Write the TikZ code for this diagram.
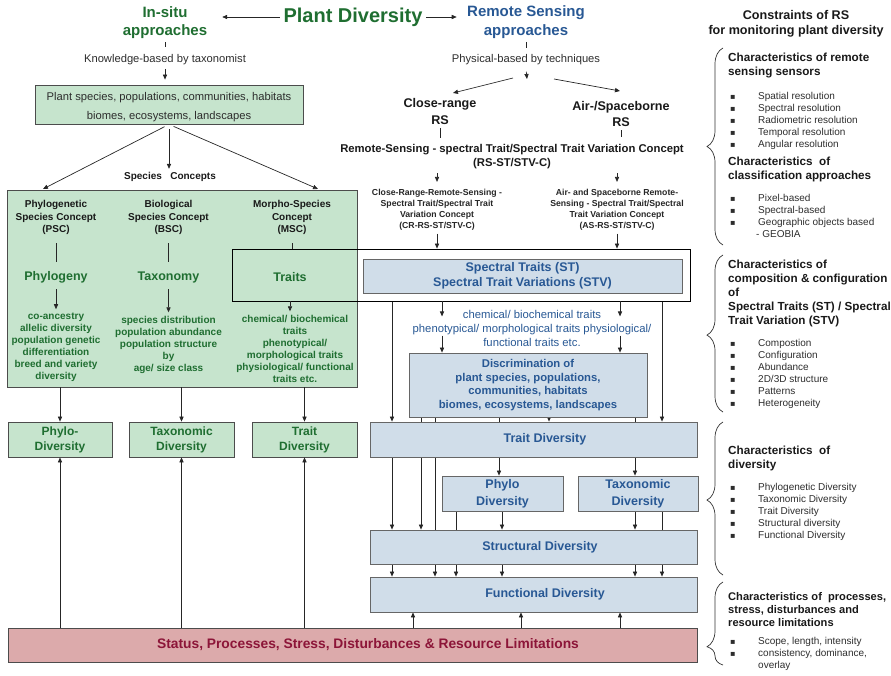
\documentclass[tikz,border=0pt]{standalone}
\usepackage{fontspec}
\setmainfont{Liberation Sans}
\newfontfamily\bulletfamily{DejaVu Sans}
\usetikzlibrary{arrows.meta,decorations.pathreplacing,backgrounds,calc}

\definecolor{plantgreen}{RGB}{31,110,49}
\definecolor{boxgreen}{RGB}{198,228,205}
\definecolor{rsblue}{RGB}{40,88,148}
\definecolor{boxblue}{RGB}{208,221,233}
\definecolor{stressred}{RGB}{140,21,56}
\definecolor{boxred}{RGB}{220,170,171}
\definecolor{darktext}{RGB}{45,45,45}

\newcommand{\sqbullet}{\makebox[28pt][l]{\bulletfamily\fontsize{8}{8}\selectfont ▪}}

\begin{document}
\begin{tikzpicture}[x=1pt, y=-1pt,
    arr/.style={draw=black!85, line width=0.7pt, -{Triangle[length=5pt,width=4.2pt]}},
    stub/.style={draw=black!85, line width=0.7pt},
    head/.style={font=\bfseries\fontsize{15}{18.5}\selectfont, align=center},
    note/.style={font=\fontsize{11.2}{13}\selectfont, text=darktext},
    rsname/.style={font=\bfseries\fontsize{12.6}{16.5}\selectfont, align=center, text=black!90},
    concept/.style={font=\bfseries\fontsize{10}{12.5}\selectfont, align=center, text=black!90},
    keyword/.style={font=\bfseries\fontsize{12.5}{15}\selectfont, text=plantgreen},
    gtext/.style={font=\bfseries\fontsize{10}{12}\selectfont, align=center, text=plantgreen},
    smallconcept/.style={font=\bfseries\fontsize{8.7}{11}\selectfont, align=center, text=black!85},
    gbox/.style={draw=black!70, fill=boxgreen, line width=0.8pt, inner sep=0pt},
    gdiv/.style={gbox, minimum width=105, minimum height=35, font=\bfseries\fontsize{12}{15}\selectfont, align=center, text=plantgreen},
    bbox/.style={draw=black!60, fill=boxblue, line width=0.8pt, inner sep=0pt, align=center, text=rsblue, font=\bfseries\fontsize{12.5}{17}\selectfont},
    chead/.style={anchor=west, inner sep=0pt, align=left, font=\bfseries\fontsize{11.7}{14}\selectfont, text=black!90},
    clist/.style={anchor=west, inner sep=0pt, align=left, font=\fontsize{10}{12}\selectfont, text=darktext},
    brc/.style={decorate, decoration={brace, amplitude=16pt, aspect=#1}, draw=black!80, line width=0.7pt},
    brc/.default=0.5]

  \useasboundingbox (0,0) rectangle (891,675);

  \foreach \x in {392,413,421,435,442,456,499,502,521,549,620,635,662}
    \coordinate (c\x) at (\x,0);

  \node[head, text=plantgreen] (insitu) at (165,22.5) {In-situ\\approaches};
  \node[font=\bfseries\fontsize{20}{24}\selectfont, text=plantgreen] (plantdiv) at (353,17) {Plant Diversity};
  \node[head, text=rsblue] (rsapp) at (526,22) {Remote Sensing\\approaches};
  \node[note] (know) at (165,60) {Knowledge-based by taxonomist};
  \node[note] (phys) at (526,60) {Physical-based by techniques};
  \node[gbox, minimum width=268, minimum height=39, align=center, font=\fontsize{11.2}{19}\selectfont, text=darktext] (plantbox) at (169,104.5) {\rule{0pt}{14pt}Plant species, populations, communities, habitats\\biomes, ecosystems, landscapes};
  \node[concept] (spc) at (170,177) {Species\ \ \ Concepts};
  \coordinate (spl) at (43,189);
  \coordinate (spr) at (318,189);

  \node[gbox, minimum width=350, minimum height=197] (spbox) at (182,288.5) {};
  \node[draw=black, line width=0.8pt, minimum width=458, minimum height=52, inner sep=0pt] (traitframe) at (461,275) {};

  \node[concept] (psc) at (56,217.5) {Phylogenetic\\Species Concept\\(PSC)};
  \node[concept] (bsc) at (168.5,217.5) {Biological\\Species Concept\\(BSC)};
  \node[concept] (msc) at (292,217.5) {Morpho-Species\\Concept\\(MSC)};
  \node[keyword] (phylogeny) at (56,277) {Phylogeny};
  \node[keyword] (taxonomy) at (168.5,277) {Taxonomy};
  \node[keyword] (traits) at (290,277) {Traits};
  \node[gtext] (psclist) at (56,347) {co-ancestry\\allelic diversity\\population genetic\\differentiation\\breed and variety\\diversity};
  \node[gtext] (bsclist) at (168.5,344.5) {species distribution\\population abundance\\population structure\\by\\age/ size class};
  \node[gtext] (msclist) at (295,348.5) {chemical/ biochemical\\traits\\phenotypical/\\morphological traits\\physiological/ functional\\traits etc.};

  \node[gdiv, minimum width=104] (phylodiv) at (60,439.5) {Phylo-\\Diversity};
  \node[gdiv] (taxdiv) at (181.5,439.5) {Taxonomic\\Diversity};
  \node[gdiv] (traitdiv) at (304.5,439.5) {Trait\\Diversity};
  \node[draw=black!70, fill=boxred, line width=0.8pt, minimum width=689, minimum height=34, inner sep=0pt, font=\bfseries\fontsize{13.8}{16}\selectfont, text=stressred] (status) at (352.5,645) {\hspace*{31pt}Status, Processes, Stress, Disturbances \& Resource Limitations};

  \node[rsname] (closers) at (440,111.5) {Close-range\\RS};
  \node[rsname] (airrs) at (621,114) {Air-/Spaceborne\\RS};
  \coordinate (fork) at (527,79);
  \coordinate (forkl) at (513,78);
  \coordinate (forkr) at (554,79);
  \coordinate (tocr) at (453,93);
  \coordinate (toair) at (620,91);
  \node[font=\bfseries\fontsize{11.3}{13.5}\selectfont, align=center, text=black!90] (rsst) at (512,156.5) {Remote-Sensing - spectral Trait/Spectral Trait Variation Concept\\(RS-ST/STV-C)};
  \node[smallconcept] (crrs) at (437,209.5) {Close-Range-Remote-Sensing -\\Spectral Trait/Spectral Trait\\Variation Concept\\(CR-RS-ST/STV-C)};
  \node[smallconcept] (asrs) at (617,209.5) {Air- and Spaceborne Remote-\\Sensing - Spectral Trait/Spectral\\Trait Variation Concept\\(AS-RS-ST/STV-C)};
  \node[bbox, minimum width=319, minimum height=34, font=\bfseries\fontsize{12.5}{15}\selectfont] (stbox) at (522.5,276) {Spectral Traits (ST)\\Spectral Trait Variations (STV)};
  \node[font=\fontsize{11.3}{14}\selectfont, align=center, text=rsblue] (chem) at (532,328) {chemical/ biochemical traits\\phenotypical/ morphological traits physiological/\\functional traits etc.};
  \node[bbox, minimum width=238, minimum height=64, font=\bfseries\fontsize{11.3}{13.7}\selectfont] (disc) at (528,385) {Discrimination of\\plant species, populations,\\communities, habitats\\biomes, ecosystems, landscapes};
  \node[bbox, minimum width=327, minimum height=35] (tdiv) at (533.5,439.5) {\hspace*{23pt}Trait Diversity};
  \node[bbox, minimum width=121, minimum height=35] (phylo2) at (502.5,493.5) {Phylo\\Diversity};
  \node[bbox, minimum width=120, minimum height=35] (tax2) at (638,493.5) {Taxonomic\\Diversity};
  \node[bbox, minimum width=327, minimum height=34] (struct) at (533.5,547) {\hspace*{13pt}Structural Diversity};
  \node[bbox, minimum width=327, minimum height=35] (func) at (533.5,594.5) {\hspace*{23pt}Functional Diversity};

  \node[font=\bfseries\fontsize{12.6}{15}\selectfont, align=center, text=black!90] (constr) at (796,23.5) {Constraints of RS\\for monitoring plant diversity};
  \node[chead] (sensor) at (728,65) {Characteristics of remote\\sensing sensors};
  \node[clist] (sensorlist) at (730,120.5) {\sqbullet Spatial resolution\\\sqbullet Spectral resolution\\\sqbullet Radiometric resolution\\\sqbullet Temporal resolution\\\sqbullet Angular resolution};
  \node[chead] (classif) at (728,169.5) {Characteristics\ \ of\\classification approaches};
  \node[clist] (classlist) at (730,215.5) {\sqbullet Pixel-based\\\sqbullet Spectral-based\\\sqbullet Geographic objects based\\\hspace*{26pt}- GEOBIA};
  \node[chead] (compos) at (728,293.5) {Characteristics of\\composition \& configuration\\of\\Spectral Traits (ST) / Spectral\\Trait Variation (STV)};
  \node[clist] (composlist) at (730,374) {\sqbullet Compostion\\\sqbullet Configuration\\\sqbullet Abundance\\\sqbullet 2D/3D structure\\\sqbullet Patterns\\\sqbullet Heterogeneity};
  \node[chead, font=\bfseries\fontsize{11.7}{13.5}\selectfont] (divers) at (728,458.5) {Characteristics\ \ of\\diversity};
  \node[clist] (diverslist) at (730,512) {\sqbullet Phylogenetic Diversity\\\sqbullet Taxonomic Diversity\\\sqbullet Trait Diversity\\\sqbullet Structural diversity\\\sqbullet Functional Diversity};
  \node[chead, font=\bfseries\fontsize{11.1}{13}\selectfont] (process) at (728,610) {Characteristics of\ \ processes,\\stress, disturbances and\\resource limitations};
  \node[clist] (processlist) at (730,654) {\sqbullet Scope, length, intensity\\\sqbullet consistency, dominance,\\\hspace*{28pt}overlay};

  \draw[brc] (723,245) -- (723,48);
  \draw[brc=0.49] (723,412) -- (723,255);
  \draw[brc=0.49] (723,575) -- (723,422);
  \draw[brc=0.22] (723,665) -- (723,582);

  \draw[arr, shorten >=11.6pt] (plantdiv.west) -- (plantdiv.west -| insitu.east);
  \draw[arr, shorten >=7pt] (plantdiv.east) -- (plantdiv.east -| rsapp.west);
  \draw[stub, shorten >=4.5pt] (insitu) -- (know);
  \draw[arr, shorten >=5pt] (know.south) -- (know.south |- plantbox.north);
  \draw[arr, shorten <=5pt] (plantbox.south) -- (spl);
  \draw[arr, shorten <=5pt] (plantbox.south) -- (plantbox.south |- spc.north);
  \draw[arr, shorten <=5pt] (plantbox.south) -- (spr);

  \draw[stub, shorten <=5pt, shorten >=5.5pt] (psc) -- (phylogeny);
  \draw[stub, shorten <=5pt, shorten >=5.5pt] (bsc) -- (taxonomy);
  \draw[stub, shorten <=5pt] (msc.south) -- (msc.south |- traitframe.north);
  \draw[arr, shorten <=3pt] (phylogeny) -- (psclist);
  \draw[arr, shorten <=3pt] (taxonomy) -- (bsclist);
  \draw[arr] (traitframe.south -| traits) -- (msclist.north -| traits);
  \foreach \d in {phylodiv,taxdiv,traitdiv} {
    \draw[arr] (spbox.south -| \d) -- (\d.north);
    \draw[arr] (status.north -| \d) -- (\d.south);
  }

  \draw[stub, shorten >=3.5pt] (rsapp.south) -- (rsapp.south |- phys.north);
  \draw[arr, shorten <=3pt] (phys.south) -- (fork);
  \draw[arr] (forkl) -- (tocr);
  \draw[arr] (forkr) -- (toair);
  \draw[stub, shorten >=3pt] (closers.south) -- (closers.south |- rsst.north);
  \draw[stub, shorten >=4pt] (airrs.south) -- (airrs.south |- rsst.north);
  \draw[arr, shorten <=1pt, shorten >=3.5pt] (rsst.south -| crrs) -- (crrs.north);
  \draw[arr, shorten <=1pt, shorten >=3.5pt] (rsst.south -| asrs) -- (asrs.north);
  \draw[arr] (crrs.south) -- (crrs.south |- traitframe.north);
  \draw[arr] (asrs.south) -- (asrs.south |- traitframe.north);
  \foreach \c in {c442,c620} {
    \draw[arr] (traitframe.south -| \c) -- ($(traitframe.south -| \c)+(0,15)$);
    \draw[arr] ($(disc.north -| \c)+(0,-17)$) -- (disc.north -| \c);
  }

  \begin{pgfonlayer}{background}
    \foreach \c in {c392,c662}
      \draw[arr] (traitframe.south -| \c) -- (tdiv.north -| \c);
    \draw[arr] (disc.south -| c421) -- (struct.north -| c421);
    \draw[arr] (disc.south -| c435) -- (func.north -| c435);
    \draw[arr] (disc.south -| c499) -- (phylo2.north -| c499);
    \draw[arr] (disc.south -| c549) -- (tdiv.north -| c549);
    \draw[arr] (disc.south -| c635) -- (tax2.north -| c635);
    \draw[arr] (tdiv.south -| c392) -- (struct.north -| c392);
    \draw[arr] (phylo2.south -| c456) -- (func.north -| c456);
    \draw[arr] (phylo2.south -| c502) -- (struct.north -| c502);
    \draw[arr] (tax2.south -| c635) -- (struct.north -| c635);
    \draw[arr] (tax2.south -| c662) -- (func.north -| c662);
    \foreach \c in {c392,c502,c635}
      \draw[arr] (struct.south -| \c) -- (func.north -| \c);
    \foreach \c in {c413,c521,c620}
      \draw[arr] (status.north -| \c) -- (func.south -| \c);
  \end{pgfonlayer}
\end{tikzpicture}
\end{document}
